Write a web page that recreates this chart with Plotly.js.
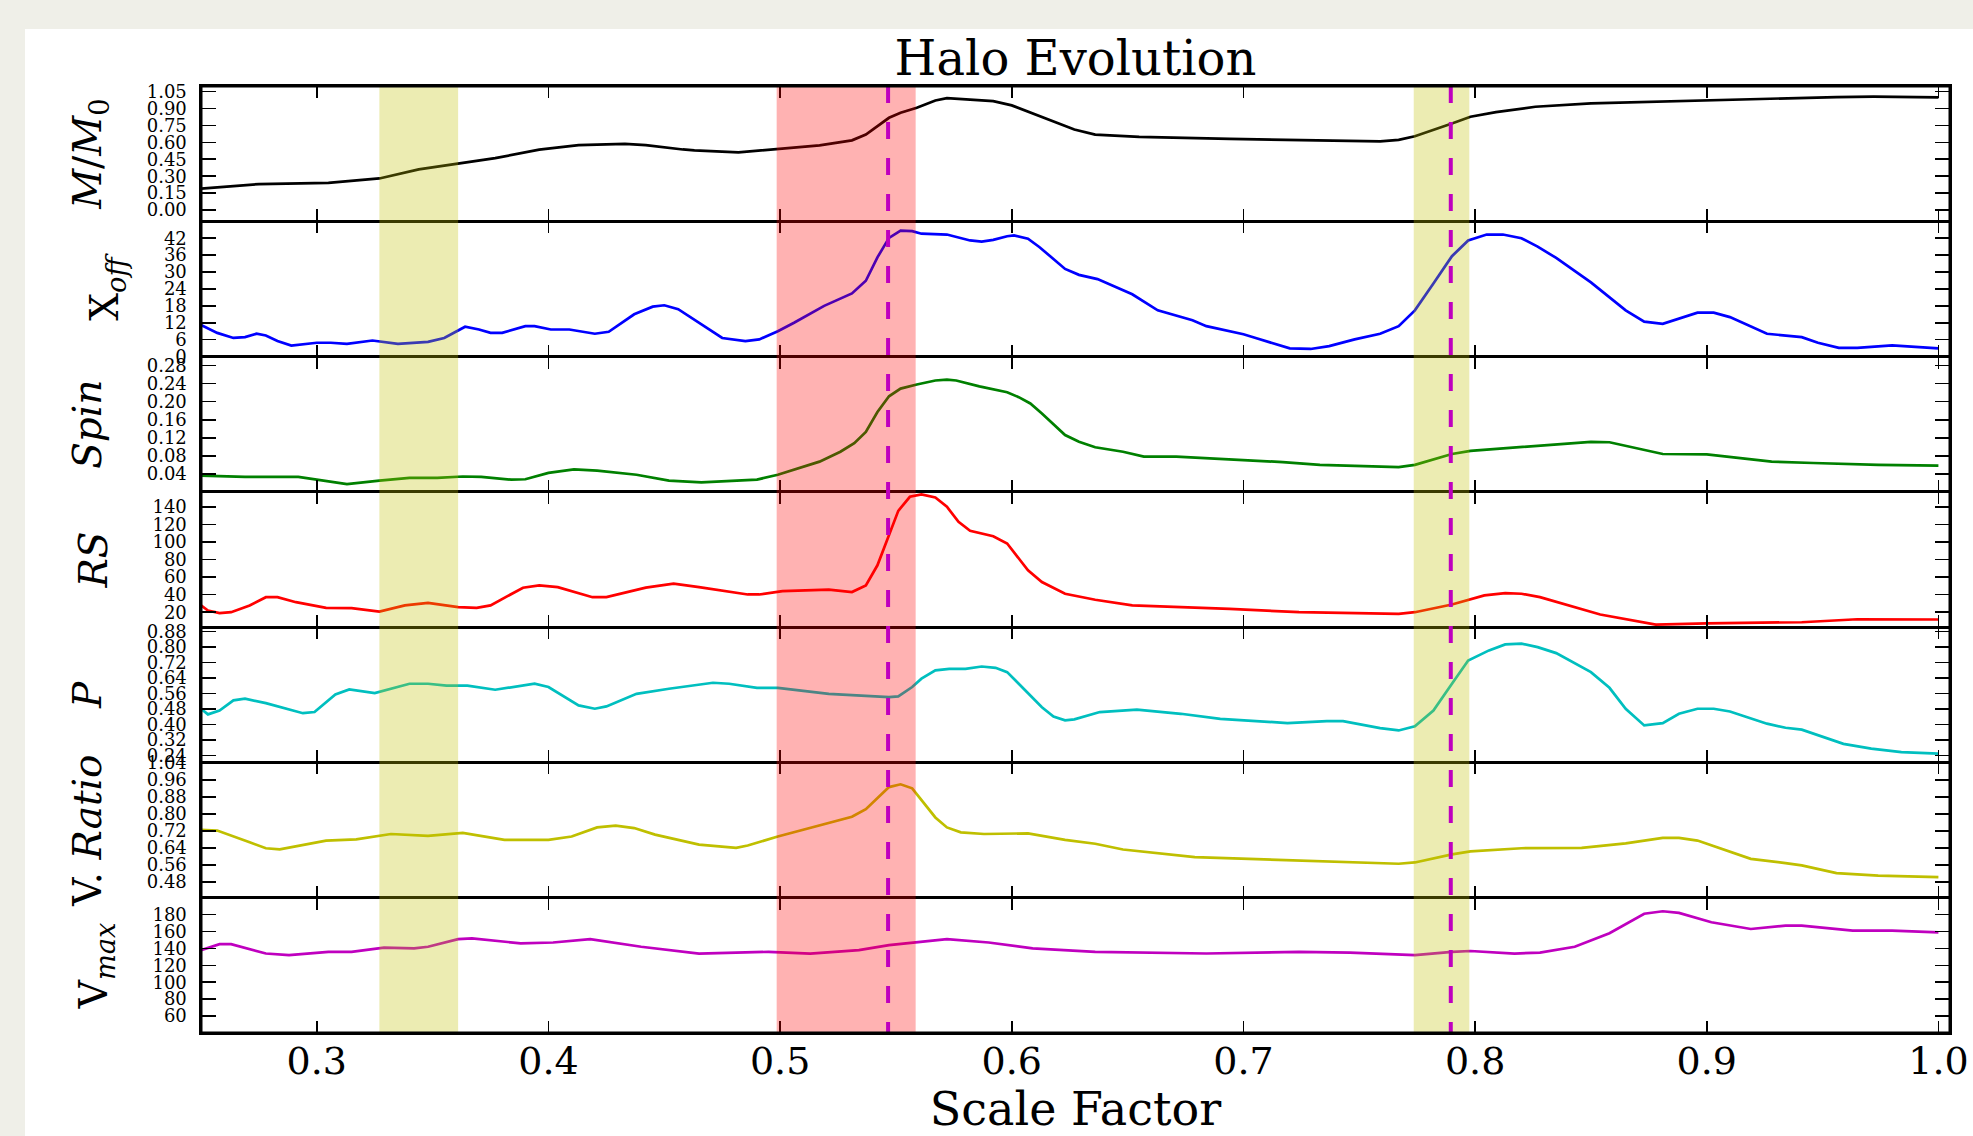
<!DOCTYPE html>
<html>
<head>
<meta charset="utf-8">
<script src="https://cdn.plot.ly/plotly-3.0.1.min.js"></script>
<style>
html,body{margin:0;padding:0;background:#efefe8;width:1973px;height:1136px;overflow:hidden}
#chart{position:absolute;left:25px;top:29px;width:1948px;height:1107px;background:#ffffff}
</style>
</head>
<body>
<div id="chart"></div>
<script>
// ---- Data (scale factor vs. halo properties) ----
const aMass = [0.250,0.275,0.305,0.327,0.344,0.361,0.377,0.396,0.413,0.433,0.442,0.458,0.463,0.482,0.499,0.517,0.531,0.537,0.547,0.552,0.559,0.567,0.572,0.592,0.600,0.613,0.627,0.636,0.655,0.694,0.742,0.759,0.767,0.774,0.790,0.798,0.809,0.826,0.850,0.900,0.956,0.972,1.000];
const massRatio = [0.19,0.23,0.24,0.28,0.36,0.41,0.46,0.535,0.575,0.586,0.576,0.537,0.529,0.511,0.54,0.574,0.618,0.669,0.818,0.862,0.907,0.972,0.993,0.966,0.928,0.827,0.714,0.669,0.648,0.631,0.615,0.609,0.622,0.654,0.767,0.827,0.868,0.916,0.946,0.975,1.002,1.005,0.999];

const aXoff = [0.250,0.257,0.264,0.269,0.274,0.278,0.283,0.289,0.300,0.306,0.313,0.324,0.335,0.348,0.355,0.364,0.370,0.375,0.380,0.390,0.394,0.401,0.409,0.420,0.426,0.437,0.445,0.450,0.456,0.465,0.475,0.485,0.491,0.499,0.506,0.519,0.531,0.537,0.542,0.547,0.552,0.557,0.561,0.572,0.582,0.587,0.592,0.598,0.601,0.607,0.612,0.623,0.629,0.637,0.652,0.663,0.678,0.684,0.700,0.706,0.720,0.729,0.737,0.748,0.759,0.767,0.774,0.782,0.790,0.797,0.805,0.812,0.820,0.827,0.835,0.850,0.865,0.873,0.881,0.896,0.903,0.910,0.926,0.941,0.948,0.957,0.965,0.980,1.000];
const xoff = [11.2,8.4,6.6,6.9,8.1,7.5,5.5,3.9,4.9,4.9,4.5,5.7,4.5,5.2,6.6,10.6,9.6,8.4,8.4,10.8,10.8,9.6,9.6,8.1,8.8,15,17.7,18.2,16.8,12,6.6,5.5,6.1,9,12,18,22.4,26.9,35.2,42.1,44.7,44.5,43.6,43.3,41.2,40.8,41.4,42.7,43,41.8,38.8,31.1,29,27.5,22.1,16.4,12.9,10.8,7.9,6.4,2.9,2.7,3.7,6.1,8.1,10.8,16.4,25.9,35.6,41.2,43.3,43.3,42,39,35,26.3,16.4,12.4,11.6,15.6,15.6,14,8.1,6.9,4.9,3.1,3.1,4.0,2.9];

const aSpin = [0.250,0.269,0.292,0.300,0.313,0.327,0.340,0.352,0.363,0.371,0.384,0.390,0.400,0.411,0.421,0.438,0.452,0.466,0.490,0.499,0.517,0.526,0.532,0.537,0.542,0.547,0.552,0.559,0.567,0.572,0.576,0.586,0.598,0.603,0.608,0.613,0.623,0.629,0.636,0.648,0.657,0.671,0.694,0.717,0.733,0.759,0.767,0.774,0.790,0.798,0.820,0.850,0.858,0.867,0.881,0.900,0.909,0.928,0.946,0.974,1.000];
const spin = [0.036,0.033,0.033,0.027,0.017,0.025,0.031,0.031,0.034,0.033,0.027,0.028,0.042,0.050,0.047,0.038,0.025,0.021,0.027,0.038,0.067,0.089,0.108,0.133,0.177,0.212,0.229,0.238,0.247,0.249,0.247,0.234,0.221,0.210,0.196,0.174,0.126,0.111,0.099,0.089,0.078,0.078,0.072,0.066,0.060,0.055,0.055,0.060,0.084,0.091,0.100,0.111,0.110,0.100,0.084,0.083,0.078,0.067,0.064,0.060,0.058];

const aRS = [0.250,0.253,0.258,0.263,0.271,0.278,0.283,0.291,0.304,0.315,0.327,0.338,0.348,0.361,0.369,0.375,0.389,0.396,0.404,0.419,0.425,0.442,0.454,0.465,0.486,0.491,0.501,0.521,0.531,0.537,0.542,0.547,0.551,0.556,0.561,0.567,0.572,0.577,0.582,0.592,0.598,0.607,0.613,0.623,0.636,0.652,0.694,0.724,0.746,0.767,0.774,0.790,0.804,0.813,0.820,0.828,0.854,0.878,0.900,0.928,0.941,0.965,1.000];
const rs = [27.7,21.9,18.9,20,27.7,37.1,37.1,31.4,25,24.6,20.8,27.7,30.7,25.7,25,27.7,47.9,50.5,48.6,37.1,37.1,47.9,52.5,48.6,40.2,40.2,44,45.6,42.9,50.5,73.4,107.7,135.4,151.4,154.2,150.7,140,122.9,112.6,106.5,98.2,67.7,54.3,41,34.2,27.7,23.9,20,18.9,18.2,20,28.8,39.1,41.7,41,37.1,17.4,5.9,7.4,8.2,8.6,12,11.7];

const aP = [0.250,0.253,0.258,0.264,0.269,0.278,0.294,0.299,0.308,0.314,0.325,0.340,0.348,0.356,0.365,0.377,0.394,0.400,0.413,0.420,0.425,0.438,0.452,0.459,0.471,0.478,0.490,0.499,0.521,0.547,0.551,0.557,0.561,0.567,0.573,0.580,0.587,0.593,0.598,0.603,0.613,0.618,0.623,0.627,0.638,0.654,0.673,0.690,0.702,0.719,0.736,0.743,0.759,0.767,0.774,0.782,0.790,0.797,0.806,0.813,0.820,0.827,0.835,0.850,0.858,0.865,0.873,0.881,0.888,0.896,0.903,0.910,0.926,0.934,0.941,0.948,0.959,0.971,0.984,1.000];
const pVal = [0.481,0.452,0.472,0.524,0.533,0.51,0.458,0.464,0.555,0.581,0.562,0.61,0.61,0.60,0.60,0.579,0.61,0.593,0.498,0.481,0.493,0.558,0.584,0.596,0.615,0.61,0.589,0.589,0.558,0.541,0.545,0.593,0.636,0.679,0.687,0.687,0.699,0.692,0.67,0.61,0.489,0.441,0.421,0.426,0.464,0.476,0.455,0.429,0.421,0.407,0.417,0.417,0.381,0.369,0.39,0.472,0.61,0.73,0.782,0.813,0.817,0.799,0.768,0.67,0.589,0.481,0.395,0.407,0.455,0.481,0.481,0.467,0.404,0.383,0.373,0.343,0.300,0.275,0.257,0.249];

const aVR = [0.250,0.257,0.271,0.278,0.284,0.294,0.304,0.317,0.332,0.348,0.363,0.381,0.400,0.410,0.421,0.429,0.437,0.446,0.465,0.481,0.486,0.499,0.517,0.531,0.537,0.547,0.552,0.557,0.567,0.572,0.578,0.588,0.607,0.623,0.636,0.648,0.679,0.713,0.746,0.767,0.774,0.790,0.798,0.820,0.846,0.865,0.881,0.888,0.896,0.919,0.934,0.941,0.956,0.974,1.000];
const vRatio = [0.725,0.722,0.667,0.639,0.634,0.655,0.675,0.681,0.706,0.697,0.711,0.678,0.678,0.694,0.737,0.745,0.734,0.703,0.656,0.641,0.652,0.694,0.745,0.787,0.823,0.927,0.94,0.921,0.784,0.737,0.714,0.706,0.709,0.678,0.66,0.633,0.597,0.585,0.571,0.566,0.572,0.61,0.624,0.639,0.641,0.662,0.688,0.688,0.675,0.589,0.569,0.558,0.522,0.51,0.503];

const aVmax = [0.250,0.258,0.263,0.278,0.288,0.298,0.305,0.315,0.329,0.342,0.348,0.361,0.367,0.388,0.402,0.418,0.440,0.465,0.495,0.513,0.534,0.547,0.559,0.572,0.590,0.609,0.636,0.684,0.724,0.746,0.774,0.790,0.798,0.817,0.828,0.843,0.858,0.873,0.881,0.888,0.902,0.919,0.934,0.941,0.963,0.980,1.000];
const vmax = [138,145,145,134,132,134,136,136,141,140,142,151,152,146,147,151,142,134,136,134,138,144,147,151,147,140,136,134,136,135,132,136,137,134,135,142,158,181,184,182,171,163,167,167,161,161,159];

// Highlighted intervals and event markers (scale factor)
const yellowBands = [[0.327, 0.361], [0.7735, 0.7975]];
const redBands = [[0.4985, 0.5585]];
const eventLines = [0.5466, 0.7895];

// Tick labels
const xTicks = [0.3,0.4,0.5,0.6,0.7,0.8,0.9,1.0];
const massTicks = [0,0.15,0.30,0.45,0.60,0.75,0.90,1.05];
const xoffTicks = [0,6,12,18,24,30,36,42];
const spinTicks = [0.04,0.08,0.12,0.16,0.20,0.24,0.28];
const rsTicks = [20,40,60,80,100,120,140];
const pTicks = [0.24,0.32,0.40,0.48,0.56,0.64,0.72,0.80,0.88];
const vrTicks = [0.48,0.56,0.64,0.72,0.80,0.88,0.96,1.04];
const vmaxTicks = [60,80,100,120,140,160,180];

// ---- Panel definitions ----
const panels = [
  {x:aMass, y:massRatio, color:'#000000', title:'<i>M</i>/<i>M</i><sub>0</sub>', range:[-0.1,1.1], ticks:massTicks, fmt:'.2f'},
  {x:aXoff, y:xoff, color:'#0000ff', title:'X<sub><i>off</i></sub>', range:[0,48], ticks:xoffTicks, fmt:'d'},
  {x:aSpin, y:spin, color:'#008000', title:'<i>Spin</i>', range:[0,0.30], ticks:spinTicks, fmt:'.2f'},
  {x:aRS, y:rs, color:'#ff0000', title:'<i>RS</i>', range:[3,157], ticks:rsTicks, fmt:'d'},
  {x:aP, y:pVal, color:'#00bfbf', title:'<i>P</i>', range:[0.204,0.902], ticks:pTicks, fmt:'.2f'},
  {x:aVR, y:vRatio, color:'#bfbf00', title:'V. <i>Ratio</i>', range:[0.406,1.043], ticks:vrTicks, fmt:'.2f'},
  {x:aVmax, y:vmax, color:'#bf00bf', title:'V<sub><i>max</i></sub>', range:[40,200], ticks:vmaxTicks, fmt:'d'}
];

const FONT = 'DejaVu Serif';
const n = panels.length;
const traces = [];
const layout = {
  width: 1948, height: 1107,
  margin: {l:176, r:23, t:57, b:103},
  paper_bgcolor: '#ffffff', plot_bgcolor: '#ffffff',
  showlegend: false,
  font: {family: FONT, color: '#000000'},
  title: {
    text: 'Halo Evolution',
    font: {family: FONT, size: 48, color: '#000000'},
    x: 0.5, xref: 'paper', xanchor: 'center',
    y: 1, yref: 'paper', yanchor: 'bottom', pad: {b: 11}
  },
  shapes: []
};

panels.forEach((p, i) => {
  const k = i + 1;
  const xs = k === 1 ? 'x' : 'x' + k;
  const ys = k === 1 ? 'y' : 'y' + k;
  traces.push({
    type: 'scatter', mode: 'lines', x: p.x, y: p.y,
    xaxis: xs, yaxis: ys,
    line: {color: p.color, width: 2.7},
    hoverinfo: 'skip'
  });
  const top = 1 - i / n, bot = 1 - (i + 1) / n;
  const last = (k === n);
  const xa = {
    anchor: ys, domain: [0, 1], range: [0.25, 1.005],
    tickvals: xTicks, tickformat: '.1f',
    ticks: 'inside', ticklen: 12, tickwidth: 1.6, tickcolor: '#000',
    showline: true, linewidth: 1.6, linecolor: '#000', mirror: 'ticks',
    showgrid: false, zeroline: false,
    showticklabels: last,
    tickfont: {family: FONT, size: 38, color: '#000'}
  };
  if (k > 1) xa.matches = 'x';
  if (last) {
    xa.ticklabelstandoff = -6;
    xa.title = {text: 'Scale Factor', font: {family: FONT, size: 46, color: '#000'}, standoff: 4};
  }
  layout['xaxis' + (k === 1 ? '' : k)] = xa;
  layout['yaxis' + (k === 1 ? '' : k)] = {
    anchor: xs, domain: [bot, top], range: p.range,
    tickvals: p.ticks, tickformat: p.fmt,
    ticks: 'inside', ticklen: 15, tickwidth: 1.6, tickcolor: '#000',
    showline: true, linewidth: 1.6, linecolor: '#000', mirror: 'ticks',
    showgrid: false, zeroline: false,
    tickfont: {family: FONT, size: 18, color: '#000'},
    ticklabelstandoff: 9,
    title: {text: p.title, font: {family: FONT, size: 39, color: '#000'}, standoff: 33}
  };
});

yellowBands.forEach(b => layout.shapes.push({
  type: 'rect', xref: 'x', yref: 'paper', x0: b[0], x1: b[1], y0: 0, y1: 1,
  fillcolor: '#bfbf00', opacity: 0.3, line: {width: 0}, layer: 'above'
}));
redBands.forEach(b => layout.shapes.push({
  type: 'rect', xref: 'x', yref: 'paper', x0: b[0], x1: b[1], y0: 0, y1: 1,
  fillcolor: '#ff0000', opacity: 0.3, line: {width: 0}, layer: 'above'
}));
eventLines.forEach(a => layout.shapes.push({
  type: 'line', xref: 'x', yref: 'paper', x0: a, x1: a, y0: 1, y1: 0,
  line: {color: '#bf00bf', width: 4, dash: '17px,19px'}, layer: 'above'
}));
// outer frame of the stacked panels
layout.shapes.push({
  type: 'rect', xref: 'paper', yref: 'paper', x0: 0, x1: 1, y0: 0, y1: 1,
  line: {color: '#000', width: 3}, fillcolor: 'rgba(0,0,0,0)', layer: 'above'
});

Plotly.newPlot('chart', traces, layout, {displayModeBar: false, staticPlot: true});
</script>
</body>
</html>
